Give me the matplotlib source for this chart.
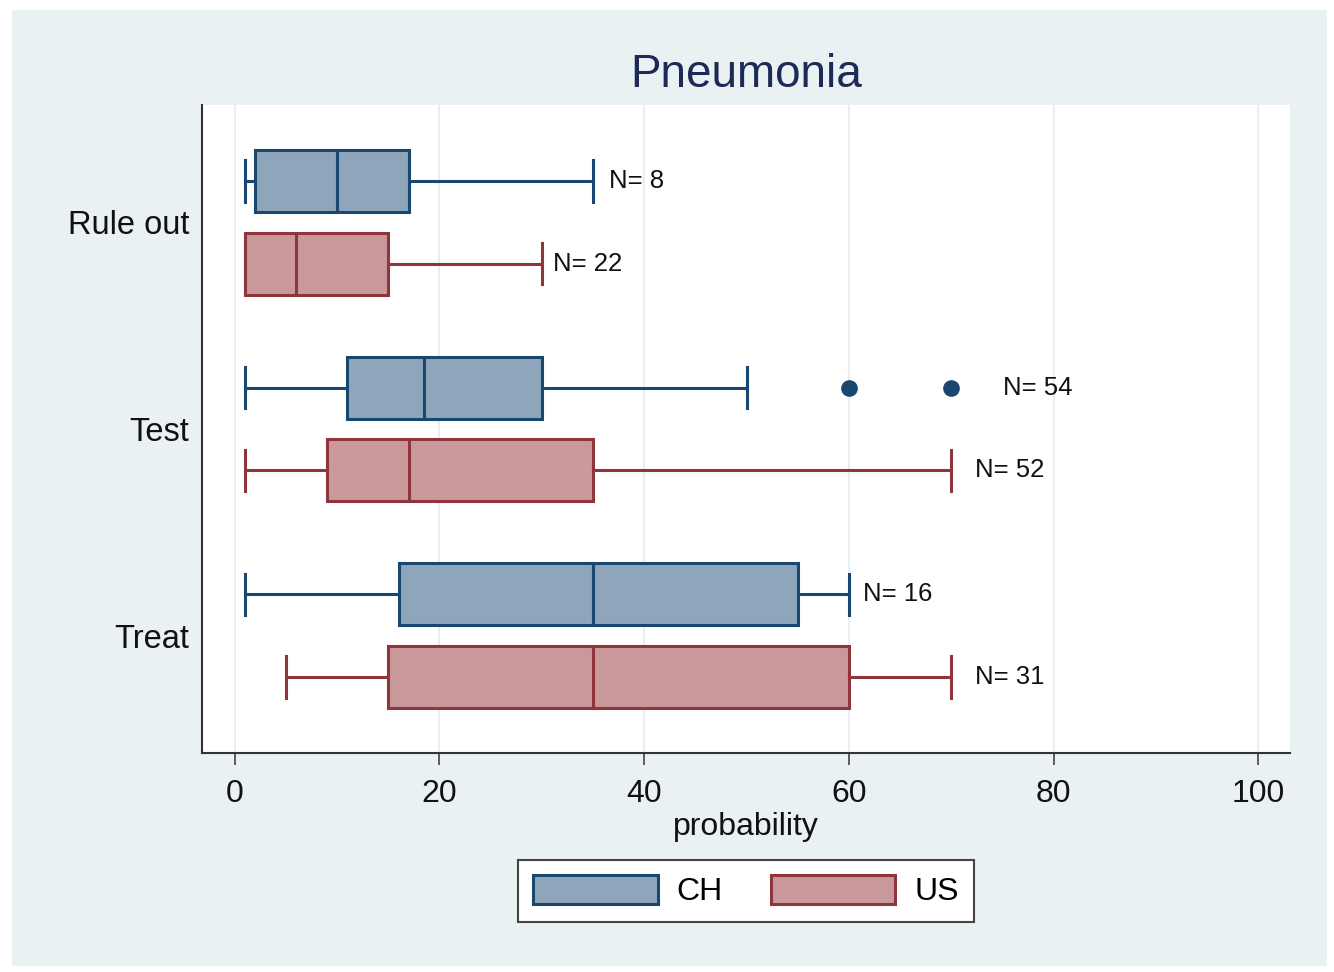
import matplotlib
matplotlib.use("Agg")
import matplotlib.pyplot as plt
from matplotlib.patches import Patch, Rectangle

plt.rcParams['font.family'] = ['Liberation Sans', 'DejaVu Sans']

categories = ["Rule out", "Test", "Treat"]
groups = ["CH", "US"]

# per category: [CH, US]
whislo = {"CH": [1, 1, 1], "US": [1, 1, 5]}
q1 = {"CH": [2, 11, 16], "US": [1, 9, 15]}
med = {"CH": [10, 18.5, 35], "US": [6, 17, 35]}
q3 = {"CH": [17, 30, 55], "US": [15, 35, 60]}
whishi = {"CH": [35, 50, 60], "US": [30, 70, 70]}
outliers = {"CH": [[], [60, 70], []], "US": [[], [], []]}
counts = {"CH": [8, 54, 16], "US": [22, 52, 31]}

xticks = [0, 20, 40, 60, 80, 100]

# styling
fill = {"CH": "#8ea5bb", "US": "#c9999c"}
edge = {"CH": "#1a476f", "US": "#90353b"}
offset = {"CH": -0.2, "US": 0.2}
label_pad_px = {"CH": [16, 52, 14], "US": [11, 24, 24]}

W, H = 1334, 972
fig = plt.figure(figsize=(W / 100, H / 100), dpi=100)
fig.patch.set_facecolor("white")
fig.patches.append(Rectangle((12 / W, 6 / H), (1327 - 12) / W, (962 - 6) / H,
                             transform=fig.transFigure, facecolor="#eaf1f3",
                             edgecolor="none", zorder=-10))

ax = fig.add_axes([202 / W, 1 - 753 / H, (1290 - 202) / W, (753 - 105) / H])
ax.set_facecolor("white")

for g in groups:
    stats = []
    pos = []
    for i, c in enumerate(categories):
        stats.append(dict(whislo=whislo[g][i], q1=q1[g][i], med=med[g][i],
                          q3=q3[g][i], whishi=whishi[g][i], fliers=outliers[g][i]))
        pos.append(i + offset[g])
    ax.bxp(stats, positions=pos, widths=0.3, capwidths=0.2,
           orientation='horizontal', patch_artist=True,
           boxprops=dict(facecolor=fill[g], edgecolor=edge[g], linewidth=2.2),
           medianprops=dict(color=edge[g], linewidth=2.2),
           whiskerprops=dict(color=edge[g], linewidth=2.2),
           capprops=dict(color=edge[g], linewidth=2.2),
           flierprops=dict(marker='o', markersize=11, markerfacecolor=edge[g],
                           markeredgecolor=edge[g]),
           zorder=3)
    for i, c in enumerate(categories):
        xmax = max([whishi[g][i]] + list(outliers[g][i]))
        ax.annotate(f"N= {counts[g][i]}", xy=(xmax, i + offset[g]),
                    xytext=(label_pad_px[g][i] * 0.72, 0), textcoords='offset points',
                    ha='left', va='center', fontsize=18.5, color="#111111", zorder=4)

ax.set_xlim(-3.2, 103.1)
ax.set_ylim(2.568, -0.567)
ax.set_xticks(xticks)
ax.set_xticklabels([str(t) for t in xticks])
ax.set_yticks(range(len(categories)))
ax.set_yticklabels(categories)
ax.tick_params(axis='y', length=0, pad=9, labelsize=23.5, labelcolor="#111111")
ax.tick_params(axis='x', length=8.5, width=1.2, color="#444444", pad=10.5,
               labelsize=23, labelcolor="#111111")
ax.grid(axis='x', color="#e6eff1", linewidth=1.5, zorder=0)
ax.set_axisbelow(True)
for s in ["top", "right"]:
    ax.spines[s].set_visible(False)
for s in ["left", "bottom"]:
    ax.spines[s].set_color("#333333")
    ax.spines[s].set_linewidth(1.5)

ax.set_xlabel("probability", fontsize=23, color="#111111", labelpad=2)
fig.text(746 / W, 1 - 75 / H, "Pneumonia", ha='center', va='center',
         fontsize=33, color="#1c2a55")

handles = [Patch(facecolor=fill[g], edgecolor=edge[g], linewidth=2.2) for g in groups]
leg = fig.legend(handles, groups, loc='upper center', bbox_to_anchor=(746 / W, 1 - 844 / H),
                 ncol=2, fontsize=23, handlelength=3.9, handleheight=1.05,
                 handletextpad=0.6, columnspacing=1.5, borderpad=0.46,
                 fancybox=False, frameon=True)
leg.get_frame().set_edgecolor("#444444")
leg.get_frame().set_linewidth(1.5)
leg.get_frame().set_facecolor("white")
leg.get_frame().set_alpha(1)

fig.savefig("out.png", dpi=100, facecolor=fig.get_facecolor())
